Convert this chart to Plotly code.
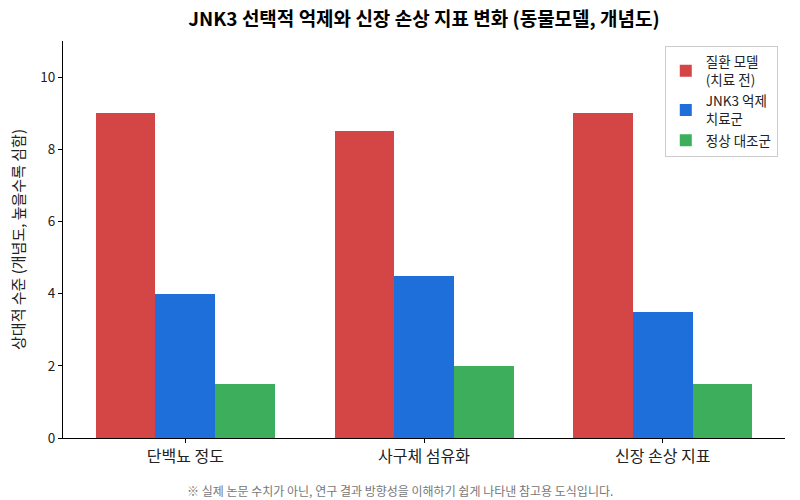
import plotly.graph_objects as go

categories = ["단백뇨 정도", "사구체 섬유화", "신장 손상 지표"]
disease = [9.0, 8.5, 9.0]
jnk3 = [4.0, 4.5, 3.5]
normal = [1.5, 2.0, 1.5]

series = [
    ("질환 모델<br>(치료 전)", disease, "#d44646"),
    ("JNK3 억제<br>치료군", jnk3, "#1f6fdb"),
    ("정상 대조군", normal, "#3dae5c"),
]

FONT = "Noto Sans CJK KR"

fig = go.Figure()
for i, (name, vals, color) in enumerate(series):
    fig.add_trace(go.Bar(
        x=[k + (i - 1) * 0.25 for k in range(len(categories))],
        y=vals,
        width=0.25,
        name=name,
        legendgroup=f"g{i}",
        marker=dict(color=color, line=dict(width=0)),
    ))

fig.update_layout(
    width=800, height=500,
    margin=dict(l=63, r=15, t=41, b=62),
    paper_bgcolor="white", plot_bgcolor="white",
    font=dict(family=FONT, color="#222222", size=13),
    title=dict(text="<b>JNK3 선택적 억제와 신장 손상 지표 변화 (동물모델, 개념도)</b>",
               x=424 / 800, xanchor="center", y=0.975, yanchor="top",
               font=dict(size=19, color="#000000")),
    bargap=0,
    showlegend=True,
    legend=dict(x=0.99, y=0.988, xanchor="right", yanchor="top",
                bordercolor="#cccccc", borderwidth=1, bgcolor="rgba(255,255,255,0.9)",
                font=dict(size=13.5), tracegroupgap=1),
    xaxis=dict(
        range=[-0.5125, 2.5125],
        tickmode="array", tickvals=list(range(len(categories))), ticktext=categories,
        tickfont=dict(size=16),
        showline=True, linecolor="black", linewidth=1,
        ticks="outside", ticklen=4, tickcolor="black",
        showgrid=False, zeroline=False,
    ),
    yaxis=dict(
        range=[0, 11],
        tickvals=[0, 2, 4, 6, 8, 10],
        tickfont=dict(size=13.5),
        title=dict(text="상대적 수준 (개념도, 높을수록 심함)", font=dict(size=15), standoff=12),
        showline=True, linecolor="black", linewidth=1,
        ticks="outside", ticklen=4, tickcolor="black",
        showgrid=False, zeroline=False,
    ),
    annotations=[dict(
        text="※ 실제 논문 수치가 아닌, 연구 결과 방향성을 이해하기 쉽게 나타낸 참고용 도식입니다.",
        xref="paper", yref="paper", x=(400 - 63) / 722, y=-(490 - 438) / 397,
        xanchor="center", yanchor="middle",
        showarrow=False, font=dict(size=12, color="#777777"),
    )],
)

# the page body has an 8px default margin; drop it so the figure sits at 0,0
fig.write_html("out.html", config={"displayModeBar": False},
               post_script="document.body.style.margin='0px';")
